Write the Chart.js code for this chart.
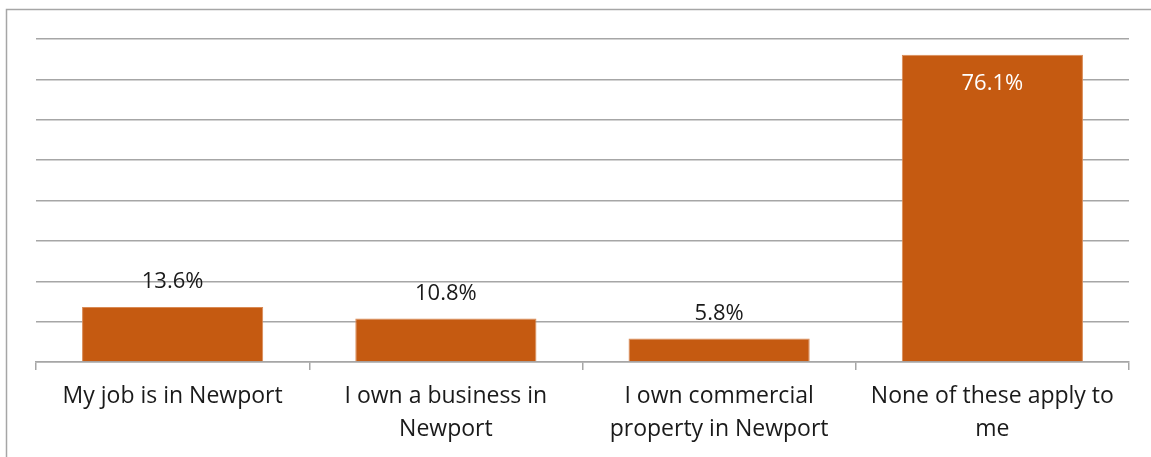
<!DOCTYPE html>
<html>
<head>
<meta charset="utf-8">
<script src="https://cdn.jsdelivr.net/npm/chart.js@4/dist/chart.umd.min.js"></script>
<style>
html,body{margin:0;padding:0;background:#fff;}
#wrap{position:relative;width:1151px;height:457px;}
</style>
</head>
<body>
<div id="wrap"><canvas id="cv"></canvas></div>
<script>
// data
var categories=[['My job is in Newport'],['I own a business in','Newport'],['I own commercial','property in Newport'],['None of these apply to','me']];
var shares=[13.6,10.8,5.8,76.1];
var yTicks=[0,10,20,30,40,50,60,70,80];

var BAR='#c55a11',GRID='#a6a6a6',TXT='#1a1a1a';
var FONT='"Open Sans", sans-serif';

// outer frame (left + top edge only visible)
var framePlugin={id:'frame',beforeDraw:function(c){
  var ctx=c.ctx;ctx.save();
  ctx.strokeStyle='#a6a6a6';ctx.lineWidth=1.5;
  ctx.beginPath();ctx.moveTo(6.5,460);ctx.lineTo(6.5,9.5);ctx.lineTo(1160,9.5);ctx.stroke();
  ctx.restore();
}};

// value labels: above small bars, inside (white) the tall one
var valPlugin={id:'vals',afterDatasetsDraw:function(c){
  var ctx=c.ctx,meta=c.getDatasetMeta(0);
  ctx.save();ctx.font='22px '+FONT;ctx.textAlign='center';ctx.textBaseline='middle';
  meta.data.forEach(function(bar,i){
    var v=shares[i];
    if(v>50){ctx.fillStyle='#fff';ctx.fillText(v.toFixed(1)+'%',bar.x,bar.y+29);}
    else{ctx.fillStyle=TXT;ctx.fillText(v.toFixed(1)+'%',bar.x,bar.y-25);}
  });
  ctx.restore();
}};

new Chart(document.getElementById('cv'),{
  type:'bar',
  data:{labels:categories,datasets:[{data:shares,backgroundColor:BAR,borderColor:'#d98a55',borderWidth:1,
    categoryPercentage:0.663,barPercentage:1}]},
  options:{responsive:true,maintainAspectRatio:false,animation:false,
    layout:{padding:{left:36,top:39,right:22,bottom:0}},
    plugins:{legend:{display:false},tooltip:{enabled:false}},
    scales:{
      x:{offset:true,
        grid:{drawOnChartArea:false,color:GRID,lineWidth:1.5,tickLength:8,offset:true},
        border:{color:GRID,width:1.5},
        ticks:{color:TXT,font:{family:FONT,size:23,lineHeight:1.43},padding:10,maxRotation:0,autoSkip:false},
        afterFit:function(s){s.height=95;}},
      y:{min:0,max:80,
        afterBuildTicks:function(s){s.ticks=yTicks.map(function(v){return{value:v};});},
        grid:{color:GRID,lineWidth:1.5,drawTicks:false},
        border:{display:false},
        ticks:{display:false},
        afterFit:function(s){s.width=0;}}
    }
  },
  plugins:[framePlugin,valPlugin]
});
</script>
</body>
</html>
